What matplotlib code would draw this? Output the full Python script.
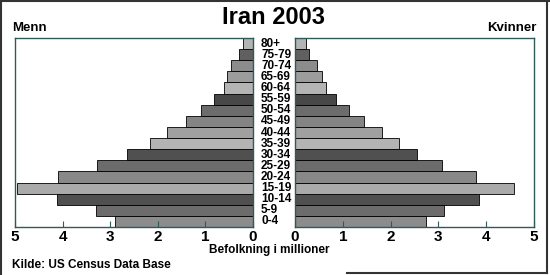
import matplotlib
matplotlib.use("Agg")
import matplotlib.pyplot as plt
import matplotlib.transforms as mtransforms
from matplotlib.lines import Line2D

plt.rcParams['font.family'] = ['Liberation Sans', 'DejaVu Sans']

age_groups = ["0-4", "5-9", "10-14", "15-19", "20-24", "25-29", "30-34", "35-39",
              "40-44", "45-49", "50-54", "55-59", "60-64", "65-69", "70-74", "75-79", "80+"]
male = [2.90, 3.30, 4.11, 4.95, 4.09, 3.28, 2.65, 2.16, 1.81, 1.41, 1.09, 0.81, 0.60, 0.55, 0.46, 0.29, 0.21]
female = [2.75, 3.11, 3.84, 4.59, 3.78, 3.08, 2.55, 2.18, 1.82, 1.45, 1.13, 0.85, 0.64, 0.57, 0.45, 0.29, 0.24]
ticks = [0, 1, 2, 3, 4, 5]

shades = ["#8c8c8c", "#6c6c6c", "#505050", "#aaaaaa", "#888888", "#6c6c6c", "#505050", "#b4b4b4",
          "#a0a0a0", "#848484", "#6c6c6c", "#484848", "#b4b4b4", "#9c9c9c", "#8c8c8c", "#606060", "#b4b4b4"]

spine_c = "#2f5a5a"

fig = plt.figure(figsize=(5.5, 2.75), dpi=100)
fig.patch.set_facecolor("white")

axL = fig.add_axes([15/550, 1-227/275, 238/550, 189/275])
axR = fig.add_axes([295/550, 1-227/275, 239/550, 189/275])

y = list(range(len(age_groups)))
axL.barh(y, male, height=1.0, color=shades, edgecolor="black", linewidth=0.6)
axR.barh(y, female, height=1.0, color=shades, edgecolor="black", linewidth=0.6)

axL.set_xlim(5, 0)
axR.set_xlim(0, 5)
for ax in (axL, axR):
    ax.set_ylim(-0.5, len(age_groups) - 0.5)
    ax.set_yticks([])
    ax.set_xticks(ticks)
    ax.set_xticklabels([str(t) for t in ticks], fontsize=11, fontweight="bold")
    ax.tick_params(axis="x", direction="in", length=4, width=0.8, color=spine_c, pad=2)
    for s in ax.spines.values():
        s.set_color(spine_c)
        s.set_linewidth(1.0)

trans = mtransforms.blended_transform_factory(fig.transFigure, axL.transData)
for i, lab in enumerate(age_groups):
    fig.text(261/550, i, lab, transform=trans, ha="left", va="center",
             fontsize=8.5, fontweight="bold")

fig.text(274/550, 1-17.5/275, "Iran 2003", ha="center", va="center", fontsize=17, fontweight="bold")
fig.text(12/550, 1-28/275, "Menn", ha="left", va="center", fontsize=9.5, fontweight="bold")
fig.text(537/550, 1-28/275, "Kvinner", ha="right", va="center", fontsize=9.5, fontweight="bold")
fig.text(269/550, 1-250/275, "Befolkning i millioner", ha="center", va="center", fontsize=8.5, fontweight="bold")
fig.text(12/550, 1-265/275, "Kilde: US Census Data Base", ha="left", va="center", fontsize=8.5, fontweight="bold")

# outer frame
fig.add_artist(Line2D([1/550, 1/550], [0, 1], transform=fig.transFigure, color="#333333", lw=1.5))
fig.add_artist(Line2D([0, 1], [1-1/275, 1-1/275], transform=fig.transFigure, color="#333333", lw=1.5))
fig.add_artist(Line2D([547/550, 547/550], [1-273/275, 1], transform=fig.transFigure, color="#333333", lw=1.5))
fig.add_artist(Line2D([347/550, 547/550], [1-272.5/275, 1-272.5/275], transform=fig.transFigure, color="#333333", lw=1.5))

fig.savefig("out.png", dpi=100)
